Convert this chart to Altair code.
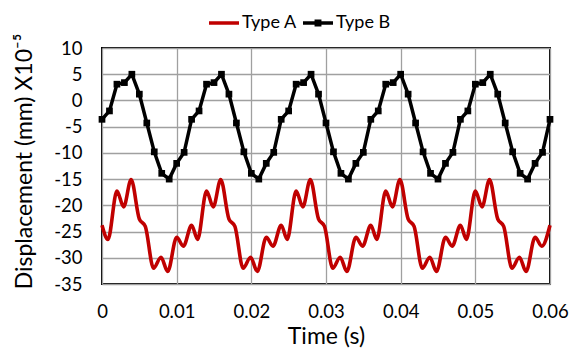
import altair as alt
import pandas as pd

time_b = [round(i * 0.001, 3) for i in range(61)]
disp_b = [
    -3.6, -2.0, 3.1, 3.4, 5.0, 1.2, -4.3, -9.8, -13.9, -15.0, -12.0, -9.9,
    -3.6, -2.0, 3.1, 3.4, 5.0, 1.2, -4.3, -9.8, -13.9, -15.0, -12.0, -9.9,
    -3.6, -2.0, 3.1, 3.4, 5.0, 1.2, -4.3, -9.8, -13.9, -15.0, -12.0, -9.9,
    -3.6, -2.0, 3.1, 3.4, 5.0, 1.2, -4.3, -9.8, -13.9, -15.0, -12.0, -9.9,
    -3.6, -2.0, 3.1, 3.4, 5.0, 1.2, -4.3, -9.8, -13.9, -15.0, -12.0, -9.9,
    -3.6,
]

# Type A: key points of the smooth curve (peaks, troughs, shoulders)
time_a = [
    0.0, 0.0008, 0.002, 0.0029, 0.0039, 0.005, 0.0058, 0.0069, 0.0079, 0.0088, 0.010, 0.0109,
    0.012, 0.0128, 0.014, 0.0149, 0.0159, 0.017, 0.0178, 0.0189, 0.0199, 0.0208, 0.022, 0.0229,
    0.024, 0.0248, 0.026, 0.0269, 0.0279, 0.029, 0.0298, 0.0309, 0.0319, 0.0328, 0.034, 0.0349,
    0.036, 0.0368, 0.038, 0.0389, 0.0399, 0.041, 0.0418, 0.0429, 0.0439, 0.0448, 0.046, 0.0469,
    0.048, 0.0488, 0.050, 0.0509, 0.0519, 0.053, 0.0538, 0.0549, 0.0559, 0.0568, 0.058, 0.0589,
    0.060,
]
disp_a = [
    -23.8, -26.5, -17.3, -20.3, -15.1, -22.6, -24.0, -32.0, -29.9, -32.6, -26.1, -27.8,
    -23.8, -26.5, -17.3, -20.3, -15.1, -22.6, -24.0, -32.0, -29.9, -32.6, -26.1, -27.8,
    -23.8, -26.5, -17.3, -20.3, -15.1, -22.6, -24.0, -32.0, -29.9, -32.6, -26.1, -27.8,
    -23.8, -26.5, -17.3, -20.3, -15.1, -22.6, -24.0, -32.0, -29.9, -32.6, -26.1, -27.8,
    -23.8, -26.5, -17.3, -20.3, -15.1, -22.6, -24.0, -32.0, -29.9, -32.6, -26.1, -27.8,
    -23.8,
]

series_names = ["Type A", "Type B"]
series_colors = ["#c00000", "#000000"]
legend_shapes = [
    "M-1,-0.117H1V0.117H-1Z",
    "M-1,-0.117H1V0.117H-1ZM-0.23,-0.23H0.23V0.23H-0.23Z",
]
x_ticks = [0, 0.01, 0.02, 0.03, 0.04, 0.05, 0.06]
y_ticks = [-35, -30, -25, -20, -15, -10, -5, 0, 5, 10]

df_a = pd.DataFrame({"t": time_a, "d": disp_a, "series": "Type A"})
df_b = pd.DataFrame({"t": time_b, "d": disp_b, "series": "Type B"})
df_leg = pd.DataFrame({"series": series_names})

FONT = "Lato"

x_enc = alt.X("t:Q", scale=alt.Scale(domain=[0, 0.06], nice=False, zero=False),
              axis=alt.Axis(values=x_ticks, title="Time (s)", labelExpr="datum.value + ''",
                            ticks=False, domain=False, gridColor="#a0a0a0", gridWidth=1.3,
                            labelFlush=False, labelPadding=18, titlePadding=5))
y_enc = alt.Y("d:Q", scale=alt.Scale(domain=[-35, 10], nice=False, zero=False),
              axis=alt.Axis(values=y_ticks, title="Displacement (mm) X10\u207b\u2075",
                            labelExpr="datum.value + ''", labelFlush=False,
                            ticks=False, domain=False, gridColor="#a0a0a0", gridWidth=1.3,
                            labelPadding=20, titlePadding=17, titleY=113))

leg = alt.Legend(
    orient="none", legendX=107, legendY=-40, direction="horizontal", title=None,
    symbolSize=900, symbolStrokeWidth=0,
    labelFont=FONT, labelFontSize=18, labelColor="black", labelOffset=3,
    columnPadding=6,
)

line_a = alt.Chart(df_a).mark_line(interpolate="monotone", strokeWidth=3.6, color=series_colors[0]).encode(
    x=x_enc, y=y_enc)
line_b = alt.Chart(df_b).mark_line(strokeWidth=3.5, color=series_colors[1]).encode(
    x=x_enc, y=y_enc)
pts_b = alt.Chart(df_b).mark_square(size=45, opacity=1, filled=True, color=series_colors[1]).encode(
    x=x_enc, y=y_enc)

legend_layer = alt.Chart(df_leg).mark_point(filled=True, opacity=1).encode(
    x=alt.value(0), y=alt.value(0),
    color=alt.Color("series:N", scale=alt.Scale(domain=series_names, range=series_colors), legend=leg),
    shape=alt.Shape("series:N", scale=alt.Scale(domain=series_names, range=legend_shapes), legend=leg),
).transform_filter("false")

chart = alt.layer(line_a, line_b, pts_b, legend_layer).properties(
    width=448, height=236,
    autosize=alt.AutoSizeParams(type="none"),
    padding={"left": 94, "top": 40, "right": 19, "bottom": 64},
).configure_view(stroke="black", strokeWidth=2).configure_axis(
    labelFont=FONT, labelFontSize=18.5, labelColor="black",
    titleFont=FONT, titleFontSize=23, titleColor="black", titleFontWeight="normal",
)

chart.save("out.html", embed_options={"renderer": "svg", "actions": False})
